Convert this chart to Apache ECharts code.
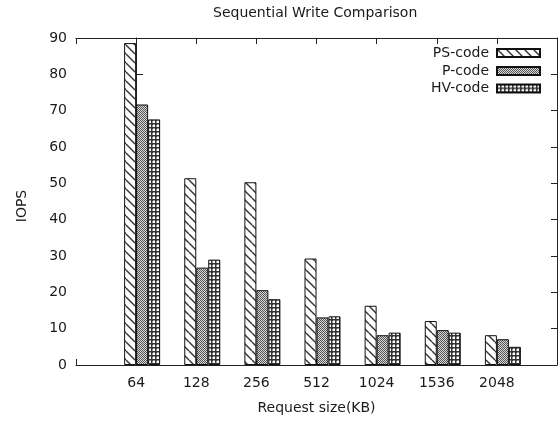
<!DOCTYPE html>
<html>
<head>
<meta charset="utf-8">
<script src="https://cdn.jsdelivr.net/npm/echarts@6/dist/echarts.min.js"></script>
<style>html,body{margin:0;padding:0;background:#fff;}#c{width:560px;height:424px;}</style>
</head>
<body>
<div id="c"></div>
<script>
const categories = ['64', '128', '256', '512', '1024', '1536', '2048'];
const psCode = [88.6, 51.4, 50.3, 29.3, 16.3, 12.1, 8.2];
const pCode  = [71.7, 26.8, 20.6, 13.1, 8.2, 9.6, 7.1];
const hvCode = [67.6, 29.0, 18.1, 13.4, 8.9, 8.9, 5.0];
const yTicks = [0, 10, 20, 30, 40, 50, 60, 70, 80, 90];

function tile(w, h, draw) {
  const c = document.createElement('canvas');
  c.width = w; c.height = h;
  const g = c.getContext('2d');
  draw(g, w, h);
  return c;
}
const psPat = tile(9, 9, (g, w, h) => {
  g.fillStyle = '#fff'; g.fillRect(0, 0, w, h);
  g.strokeStyle = '#333'; g.lineWidth = 1.4;
  for (let k = -1; k <= 1; k++) {
    g.beginPath(); g.moveTo(k * w, 0); g.lineTo(k * w + w, h); g.stroke();
  }
});
const pPat = tile(2, 2, (g) => {
  g.fillStyle = '#d8d8d8'; g.fillRect(0, 0, 2, 2);
  g.fillStyle = '#555'; g.fillRect(0, 0, 1, 1); g.fillRect(1, 1, 1, 1);
});
const hvPat = tile(4, 4, (g) => {
  g.fillStyle = '#333'; g.fillRect(0, 0, 4, 4);
  g.fillStyle = '#fff'; g.fillRect(1, 1, 2, 2);
  g.fillStyle = '#999'; g.fillRect(1, 0, 2, 1); g.fillRect(0, 1, 1, 2);
});

const FONT = 'DejaVu Sans';
const TXT = '#1a1a1a';
const LINE = '#222';

function barSeries(name, vals, pat) {
  return {
    name: name, type: 'bar', xAxisIndex: 0, yAxisIndex: 0,
    barWidth: 12, barGap: '0%',
    data: vals.map((v, i) => [i, v]),
    itemStyle: { color: { image: pat, repeat: 'repeat' }, borderColor: '#111', borderWidth: 1 },
    emphasis: { disabled: true }, animation: false
  };
}
function legendFor(name, top) {
  return {
    data: [{ name: name, icon: 'rect' }], right: 19, top: top, orient: 'vertical', align: 'right',
    itemWidth: 43, itemHeight: 8, padding: 0, selectedMode: false,
    textStyle: { fontFamily: FONT, fontSize: 14, color: TXT, padding: [0, 3, 0, 0] }
  };
}

const chart = echarts.init(document.getElementById('c'), null, { renderer: 'canvas' });
chart.setOption({
  animation: false,
  backgroundColor: '#fff',
  title: {
    text: 'Sequential Write Comparison', left: 213, top: 6, padding: 0,
    textStyle: { fontFamily: FONT, fontSize: 14, fontWeight: 'normal', color: TXT }
  },
  legend: [legendFor('PS-code', 46), legendFor('P-code', 64), legendFor('HV-code', 81.5)],
  grid: { left: 76, right: 2, top: 38, bottom: 59, containLabel: false },
  xAxis: [{
    type: 'value', min: -1, max: 7, interval: 1, position: 'bottom',
    name: 'Request size(KB)', nameLocation: 'middle', nameGap: 36,
    nameTextStyle: { fontFamily: FONT, fontSize: 14, color: TXT },
    axisLine: { show: true, lineStyle: { color: LINE, width: 1 } },
    axisTick: { show: true, inside: true, length: 6, lineStyle: { color: LINE } },
    splitLine: { show: false },
    axisLabel: { fontFamily: FONT, fontSize: 14, color: TXT, margin: 11,
      formatter: v => (v >= 0 && v < categories.length) ? categories[v] : '' }
  }, {
    type: 'value', min: -1, max: 7, interval: 1, position: 'top',
    axisLine: { show: true, onZero: false, lineStyle: { color: LINE, width: 1 } },
    axisTick: { show: true, inside: true, length: 6, lineStyle: { color: LINE } },
    splitLine: { show: false }, axisLabel: { show: false }
  }],
  yAxis: [{
    type: 'value', min: yTicks[0], max: yTicks[yTicks.length - 1], interval: 10, position: 'left',
    name: 'IOPS', nameLocation: 'middle', nameGap: 47, nameRotate: 90,
    nameTextStyle: { fontFamily: FONT, fontSize: 14, color: TXT, padding: [0, 0, 0, -9] },
    axisLine: { show: true, lineStyle: { color: LINE, width: 1 } },
    axisTick: { show: true, inside: true, length: 7, lineStyle: { color: LINE } },
    splitLine: { show: false },
    axisLabel: { fontFamily: FONT, fontSize: 14, color: TXT, margin: 9 }
  }, {
    type: 'value', min: yTicks[0], max: yTicks[yTicks.length - 1], interval: 10, position: 'right',
    axisLine: { show: true, onZero: false, lineStyle: { color: LINE, width: 1 } },
    axisTick: { show: true, inside: true, length: 6, lineStyle: { color: LINE } },
    splitLine: { show: false }, axisLabel: { show: false }
  }],
  series: [
    { name: '_pad', type: 'bar', barWidth: 12, barGap: '0%', data: [], silent: true },
    barSeries('PS-code', psCode, psPat),
    barSeries('P-code', pCode, pPat),
    barSeries('HV-code', hvCode, hvPat)
  ]
});
</script>
</body>
</html>
